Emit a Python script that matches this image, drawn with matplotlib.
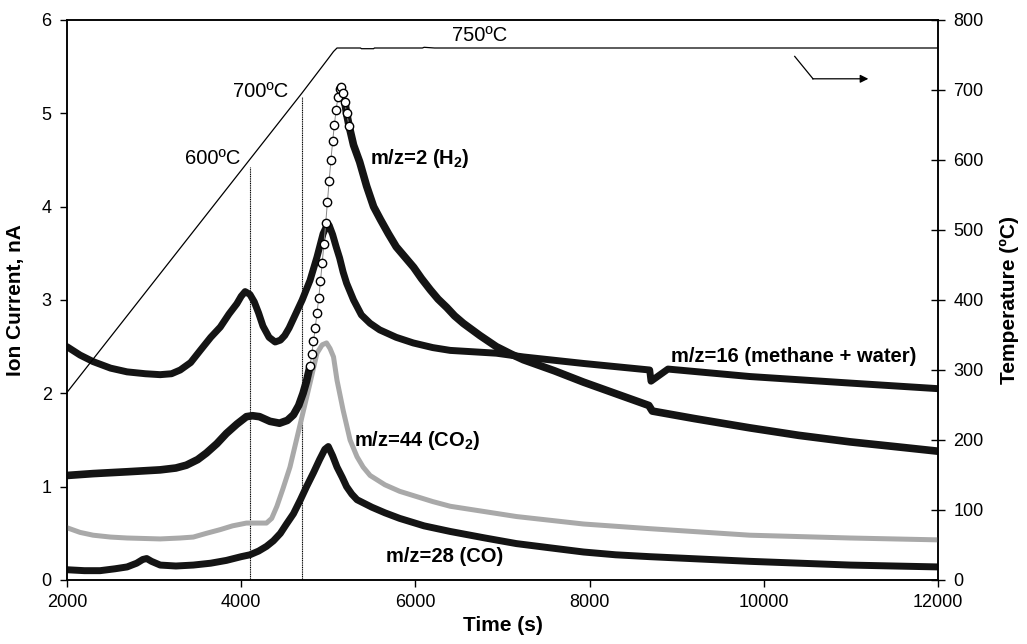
import matplotlib
matplotlib.use("Agg")
import matplotlib.pyplot as plt

plt.rcParams['font.family'] = ['Liberation Sans', 'DejaVu Sans']
plt.rcParams['mathtext.fontset'] = 'custom'
plt.rcParams['mathtext.rm'] = 'Liberation Sans:bold'
plt.rcParams['mathtext.bf'] = 'Liberation Sans:bold'
plt.rcParams['mathtext.default'] = 'rm'

# ---------------- data ----------------
# m/z = 2 (H2)
h2_t = [2000, 2300, 2700, 3070, 3250, 3370, 3500, 3600, 3720, 3830, 3950, 4060,
        4130, 4210, 4330, 4440, 4530, 4600, 4660, 4710, 4750,
        4790, 4810, 4830, 4850, 4870, 4890, 4910, 4930, 4950, 4970, 4990, 5010,
        5030, 5050, 5070, 5090, 5110, 5130, 5150, 5170, 5190, 5210, 5240,
        5290, 5360, 5440, 5520, 5600, 5690, 5780, 5880, 5980, 6070, 6170, 6260,
        6360, 6450, 6550, 6740, 6930, 7100, 7240, 7600, 7930, 8230, 8500, 8680,
        8720, 9200, 9840, 10400, 10990, 11500, 12000]
h2_v = [1.12, 1.14, 1.16, 1.18, 1.20, 1.23, 1.29, 1.36, 1.46, 1.57, 1.67, 1.75,
        1.76, 1.75, 1.70, 1.68, 1.71, 1.77, 1.87, 2.00, 2.13,
        2.29, 2.42, 2.56, 2.70, 2.86, 3.02, 3.20, 3.40, 3.60, 3.82, 4.05, 4.28,
        4.50, 4.70, 4.88, 5.04, 5.17, 5.26, 5.28, 5.22, 5.12, 5.00, 4.86,
        4.66, 4.48, 4.22, 4.00, 3.86, 3.71, 3.57, 3.46, 3.35, 3.23, 3.11, 3.01,
        2.92, 2.83, 2.75, 2.62, 2.50, 2.42, 2.36, 2.24, 2.12, 2.02, 1.93, 1.87,
        1.81, 1.73, 1.63, 1.55, 1.48, 1.43, 1.38]

# m/z = 16 (methane + water)
m16_t = [2000, 2150, 2300, 2500, 2690, 2900, 3070, 3200, 3300, 3420, 3530, 3650,
         3760, 3860, 3950, 4000, 4045, 4100, 4150, 4200, 4250, 4320, 4390, 4450,
         4500, 4550, 4600, 4700, 4790, 4870, 4940, 4980, 5010, 5050, 5090, 5130,
         5170, 5210, 5290, 5380, 5480, 5590, 5780, 5975, 6200, 6400, 6930, 7240,
         7930, 8690, 8705, 8720, 8900, 9840, 10990, 12000]
m16_v = [2.50, 2.41, 2.34, 2.27, 2.23, 2.21, 2.20, 2.21, 2.25, 2.33, 2.46, 2.60,
         2.71, 2.85, 2.96, 3.04, 3.09, 3.06, 2.98, 2.86, 2.72, 2.60, 2.55, 2.57,
         2.62, 2.70, 2.80, 3.00, 3.21, 3.46, 3.71, 3.79, 3.80, 3.70, 3.57, 3.45,
         3.30, 3.18, 3.00, 2.84, 2.75, 2.68, 2.60, 2.54, 2.49, 2.46, 2.43, 2.39,
         2.32, 2.25, 2.13, 2.14, 2.26, 2.18, 2.11, 2.05]

# m/z = 44 (CO2)
m44_t = [2000, 2150, 2300, 2500, 2690, 3070, 3300, 3450, 3600, 3760, 3900, 4060,
         4290, 4350, 4410, 4480, 4560, 4670, 4790, 4870, 4930, 4980, 5020, 5060,
         5100, 5170, 5250, 5330, 5400, 5480, 5650, 5820, 6200, 6400, 7160, 7930,
         8690, 9840, 10990, 12000]
m44_v = [0.56, 0.51, 0.48, 0.46, 0.45, 0.44, 0.45, 0.46, 0.50, 0.54, 0.58, 0.61,
         0.61, 0.66, 0.79, 0.98, 1.21, 1.64, 2.11, 2.43, 2.52, 2.54, 2.48, 2.39,
         2.14, 1.82, 1.50, 1.32, 1.21, 1.12, 1.02, 0.95, 0.84, 0.79, 0.68, 0.60,
         0.55, 0.48, 0.45, 0.43]

# m/z = 28 (CO)
m28_t = [2000, 2200, 2380, 2550, 2690, 2800, 2870, 2915, 2970, 3070, 3250, 3450,
         3650, 3830, 4000, 4100, 4200, 4290, 4370, 4450, 4520, 4600, 4680, 4750,
         4830, 4900, 4960, 5000, 5050, 5100, 5160, 5210, 5270, 5330, 5500, 5650,
         5820, 6100, 6400, 6800, 7160, 7500, 7930, 8300, 8690, 9840, 10990, 12000]
m28_v = [0.11, 0.10, 0.10, 0.12, 0.14, 0.18, 0.22, 0.23, 0.20, 0.16, 0.15, 0.16,
         0.18, 0.21, 0.25, 0.27, 0.31, 0.36, 0.42, 0.50, 0.60, 0.71, 0.86, 1.00,
         1.15, 1.29, 1.40, 1.43, 1.33, 1.21, 1.10, 1.00, 0.92, 0.86, 0.78, 0.72,
         0.66, 0.58, 0.52, 0.45, 0.39, 0.35, 0.30, 0.27, 0.25, 0.20, 0.16, 0.14]

# Temperature (right axis)
temp_t = [2000, 4100, 4700, 5000, 5060, 5100, 5370, 5380, 5520, 5530, 6080, 6100,
          6220, 6240, 12000]
temp_v = [268, 601, 696, 745, 755, 760, 760, 759, 759, 760, 760, 761, 760, 760, 760]

# temperature markers (vertical guide lines)
guide_t = [4100, 4700]
guide_top = [4.43, 5.18]

x_ticks = [2000, 4000, 6000, 8000, 10000, 12000]
y_ticks = [0, 1, 2, 3, 4, 5, 6]
t_ticks = [0, 100, 200, 300, 400, 500, 600, 700, 800]

# ---------------- figure ----------------
W, H = 1027, 644
fig = plt.figure(figsize=(W / 100, H / 100), dpi=100)
L, R, T, B = 67, 938, 20, 580
ax = fig.add_axes([L / W, 1 - B / H, (R - L) / W, (B - T) / H])
ax2 = ax.twinx()

band = '#141414'
gray = '#a9a9a9'
kw = dict(solid_joinstyle='round', solid_capstyle='round')

# CO2 (gray)
ax.plot(m44_t, m44_v, color=gray, lw=3.6, zorder=3, **kw)
# CO
ax.plot(m28_t, m28_v, color=band, lw=5.0, zorder=4, **kw)
# methane + water
ax.plot(m16_t, m16_v, color=band, lw=5.0, zorder=4, **kw)

# H2: thick band where slow, open circles on the steep rise / peak
i0 = h2_t.index(4790)
i1 = h2_t.index(5240)
i2 = h2_t.index(5190)
ax.plot(h2_t[:i0 + 1], h2_v[:i0 + 1], color=band, lw=5.5, zorder=5, **kw)
ax.plot(h2_t[i2:], h2_v[i2:], color=band, lw=5.5, zorder=5, **kw)
ax.plot(h2_t[i0:i1 + 1], h2_v[i0:i1 + 1], color='#888888', lw=0.7, zorder=6,
        marker='o', ms=6.0, mfc='white', mec='black', mew=1.0)

# guide lines
for gt, gtop in zip(guide_t, guide_top):
    ax.plot([gt, gt], [0, gtop], color='black', lw=0.8, ls=(0, (1, 0.6)), zorder=2)

# temperature
ax2.plot(temp_t, temp_v, color='black', lw=0.9)

# axes
ax.set_xlim(2000, 12000)
ax.set_ylim(0, 6)
ax2.set_ylim(0, 800)
ax.set_xticks(x_ticks)
ax.set_yticks(y_ticks)
ax2.set_yticks(t_ticks)
ax.tick_params(axis='both', direction='out', length=5, width=1, labelsize=13,
               colors='black')
ax.tick_params(axis='y', pad=6)
ax.tick_params(axis='x', pad=5)
ax2.tick_params(axis='y', direction='inout', length=10, width=1, labelsize=13,
                pad=6)
for a in (ax, ax2):
    for s in a.spines.values():
        s.set_linewidth(1.1)
        s.set_color('black')

ax.set_xlabel('Time (s)', fontsize=15, fontweight='bold', labelpad=4)
ax.set_ylabel('Ion Current, nA', fontsize=15, fontweight='bold', labelpad=12)
ax2.set_ylabel('Temperature (ºC)', fontsize=15, fontweight='bold', labelpad=12)

# annotations
ax.text(3990, 4.52, '600ºC', fontsize=14.5, ha='right', va='center')
ax.text(4540, 5.23, '700ºC', fontsize=14.5, ha='right', va='center')
ax.text(7050, 5.83, '750ºC', fontsize=14.5, ha='right', va='center')

ax.text(5480, 4.52, r'm/z=2 (H$_2$)', fontsize=14.5, fontweight='bold',
        ha='left', va='center')
ax.text(8940, 2.39, 'm/z=16 (methane + water)', fontsize=14.5, fontweight='bold',
        ha='left', va='center')
ax.text(5300, 1.50, r'm/z=44 (CO$_2$)', fontsize=14.5, fontweight='bold',
        ha='left', va='center')
ax.text(5660, 0.25, 'm/z=28 (CO)', fontsize=14.5, fontweight='bold',
        ha='left', va='center')

# arrow pointing to the temperature axis
ax.plot([10355, 10565], [5.61, 5.37], color='black', lw=0.9)
ax.annotate('', xy=(11200, 5.37), xytext=(10560, 5.37),
            arrowprops=dict(arrowstyle='-|>', color='black', lw=0.9,
                            mutation_scale=12, shrinkA=0, shrinkB=0))

fig.savefig('out.png', dpi=100)
